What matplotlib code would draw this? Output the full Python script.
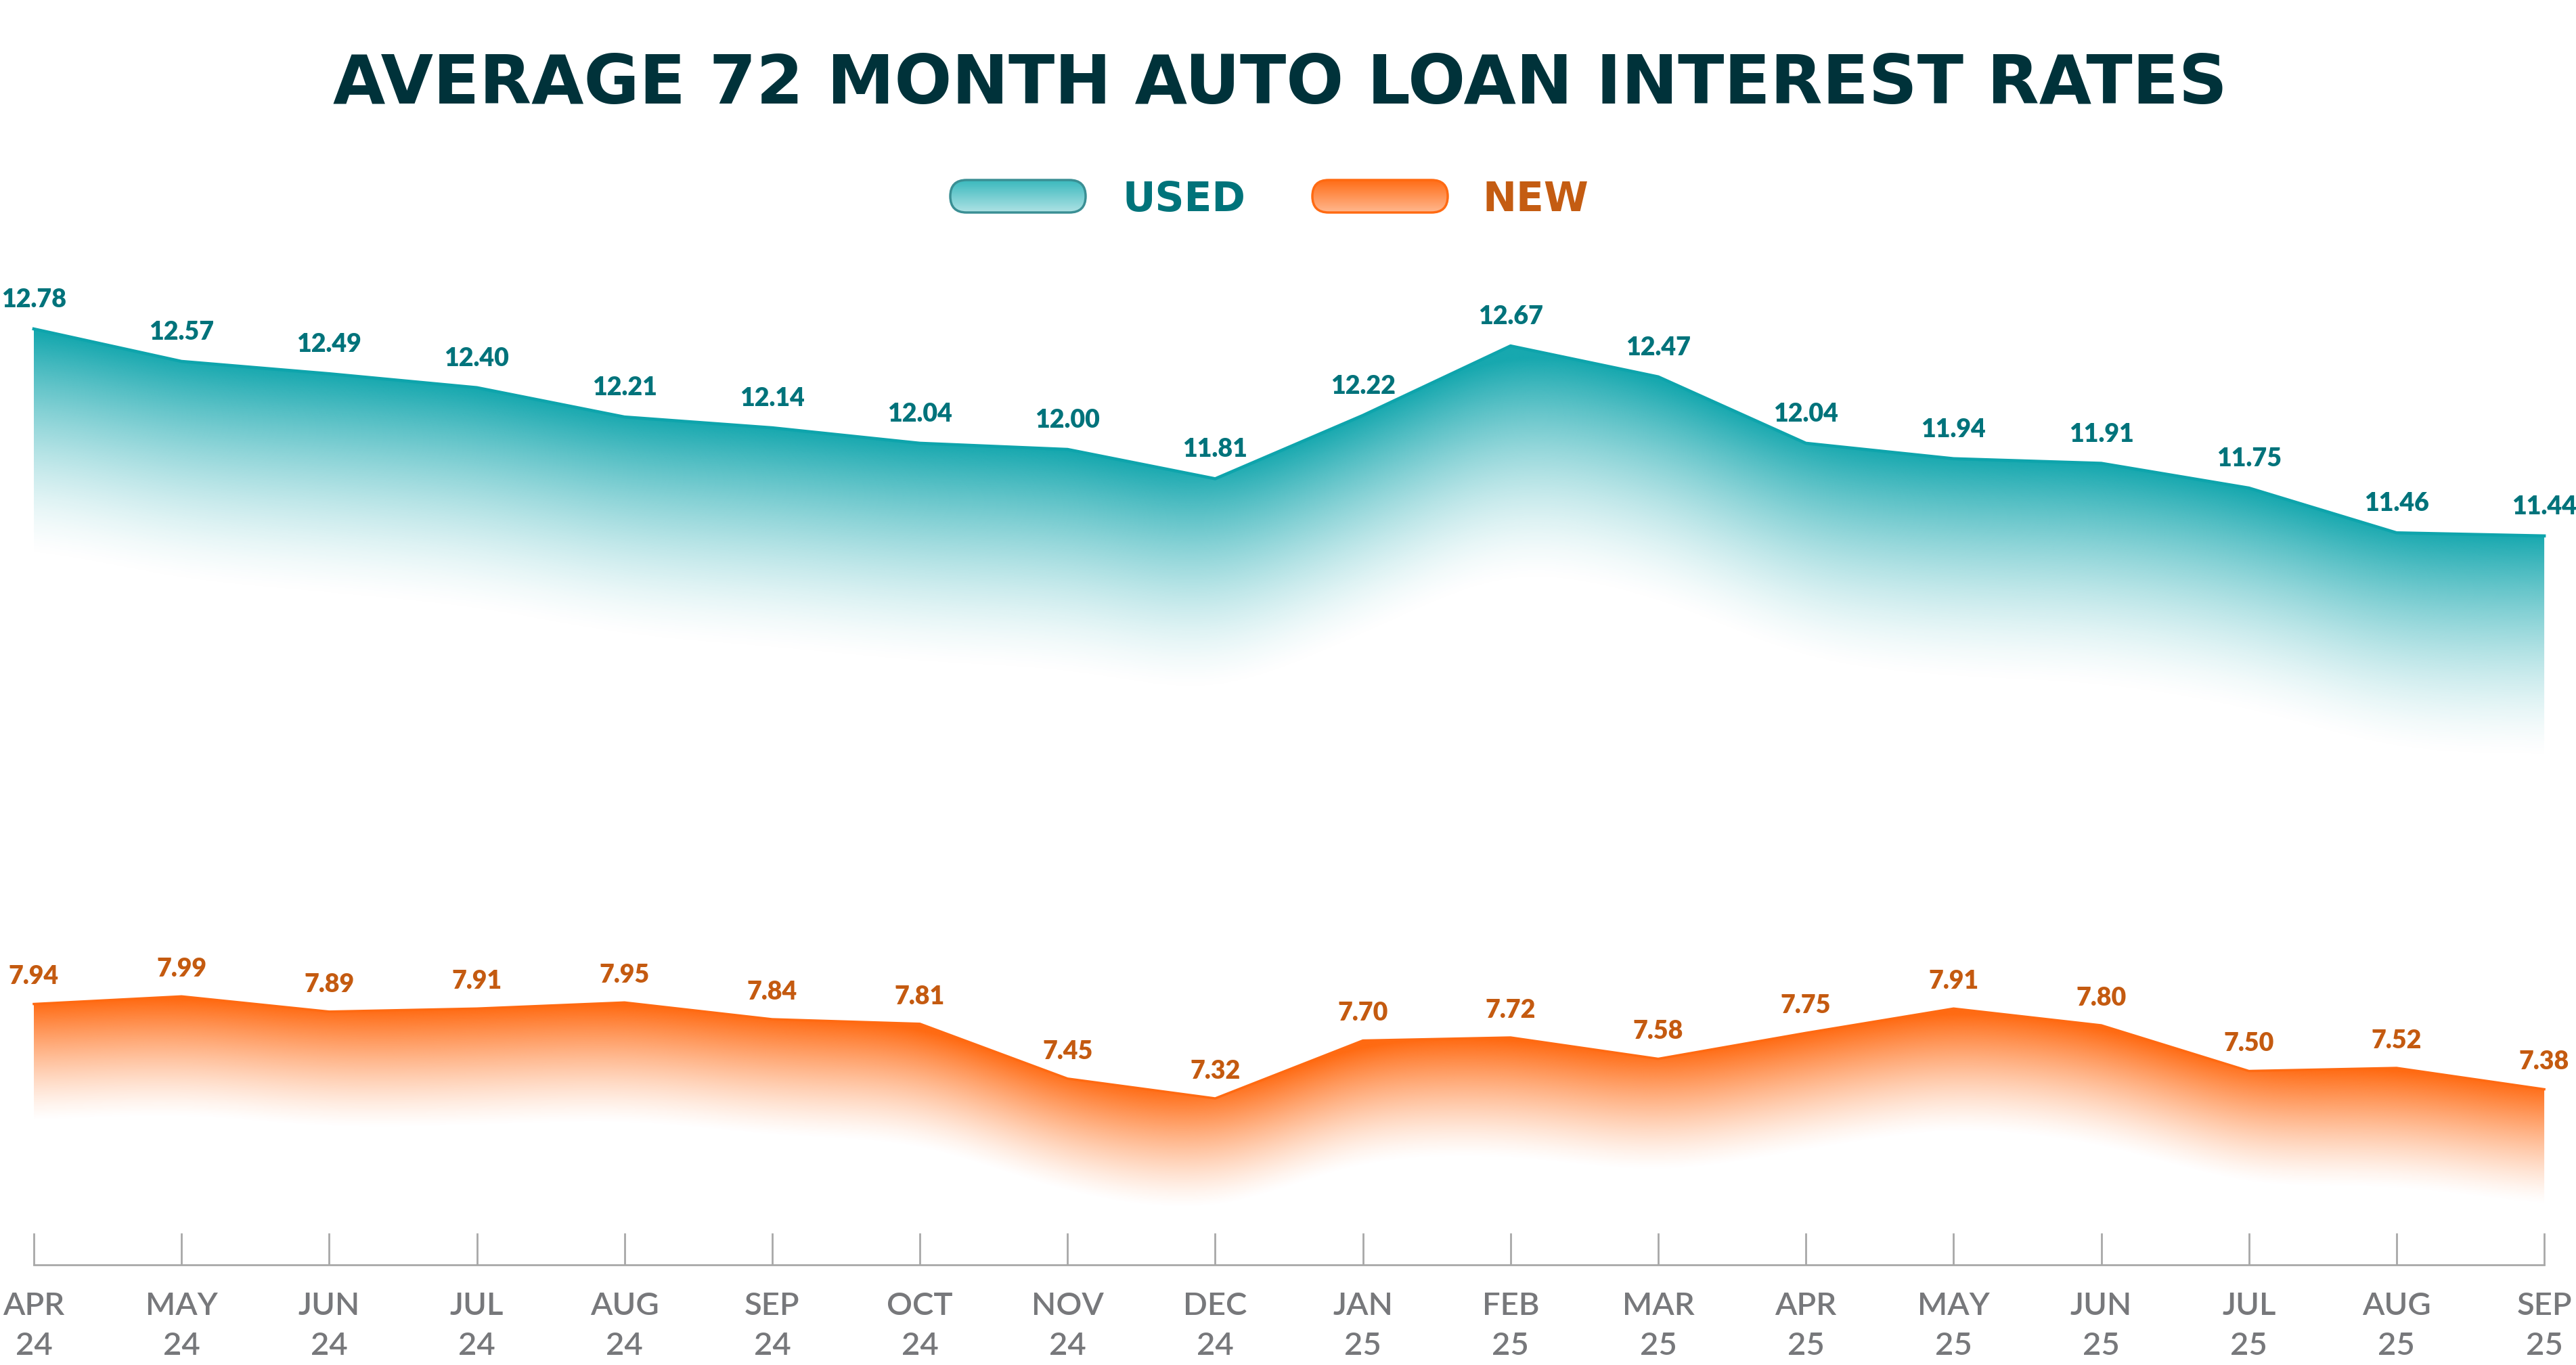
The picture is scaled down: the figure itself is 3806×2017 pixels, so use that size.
import numpy as np
import matplotlib.pyplot as plt
from matplotlib.patches import FancyBboxPatch
from matplotlib.colors import to_rgb

months = ['APR', 'MAY', 'JUN', 'JUL', 'AUG', 'SEP', 'OCT', 'NOV', 'DEC',
          'JAN', 'FEB', 'MAR', 'APR', 'MAY', 'JUN', 'JUL', 'AUG', 'SEP']
years = ['24'] * 9 + ['25'] * 9
used = [12.78, 12.57, 12.49, 12.40, 12.21, 12.14, 12.04, 12.00, 11.81,
        12.22, 12.67, 12.47, 12.04, 11.94, 11.91, 11.75, 11.46, 11.44]
new = [7.94, 7.99, 7.89, 7.91, 7.95, 7.84, 7.81, 7.45, 7.32,
       7.70, 7.72, 7.58, 7.75, 7.91, 7.80, 7.50, 7.52, 7.38]

W, H = 3806, 2017
fig = plt.figure(figsize=(W / 100, H / 100), dpi=100)
fig.patch.set_facecolor('white')

rect = [0, 1 - 1869 / H, 1, 1869 / H]
ax = fig.add_axes(rect)
ax2 = ax.twinx()
x = np.arange(len(months))

used_lim = (6.72, 14.91)
new_lim = (6.227, 14.533)


def fade(axis, vals, color, depth, power, ylim):
    # gradient under the line, fading to white, following a smoothed outline
    xs = np.linspace(0, len(vals) - 1, 1700)
    line = np.interp(xs, x, vals)
    s = 35
    k = np.exp(-0.5 * (np.arange(-3 * s, 3 * s + 1) / s) ** 2)
    k /= k.sum()
    smooth = np.convolve(np.pad(line, 3 * s, mode='edge'), k, mode='valid')
    ys = np.linspace(ylim[0], ylim[1], 900)
    d = smooth[None, :] - ys[:, None]
    a = np.clip(1 - d / depth, 0, 1) ** power
    img = np.zeros((len(ys), len(xs), 4))
    img[..., :3] = to_rgb(color)
    img[..., 3] = a
    poly = axis.fill_between(x, vals, ylim[0], color='none', lw=0)
    im = axis.imshow(img, extent=[0, len(vals) - 1, ylim[0], ylim[1]],
                     origin='lower', aspect='auto', interpolation='bilinear', zorder=1)
    im.set_clip_path(poly.get_paths()[0], transform=axis.transData)


fade(ax, used, '#17a8af', 1.45, 1.5, used_lim)
ax.plot(x, used, color='#0ea4ac', lw=3.3, zorder=3, solid_joinstyle='round')
fade(ax2, new, '#ff6a12', 0.78, 1.3, new_lim)
ax2.plot(x, new, color='#ff6a12', lw=2.5, zorder=3, solid_joinstyle='round')

for i, v in enumerate(used):
    ax.annotate(f'{v:.2f}', (i, v), xytext=(0, 23), textcoords='offset points',
                ha='center', va='baseline', fontsize=27, fontweight='heavy',
                family='Lato', color='#00737b', zorder=5)
for i, v in enumerate(new):
    ax2.annotate(f'{v:.2f}', (i, v), xytext=(0, 21), textcoords='offset points',
                 ha='center', va='baseline', fontsize=27, fontweight='heavy',
                 family='Lato', color='#c45a10', zorder=5)

ax.set_xlim(-0.229, 17.215)
ax.set_ylim(used_lim)
ax2.set_ylim(new_lim)

for a_ in (ax, ax2):
    for sp in a_.spines.values():
        sp.set_visible(False)
    a_.set_yticks([])
ax.spines['bottom'].set_visible(True)
ax.spines['bottom'].set_bounds(0, 17)
ax.spines['bottom'].set_color('#a8a8a8')
ax.spines['bottom'].set_linewidth(2)

ax.set_xticks(x)
ax.set_xticklabels([f'{m}\n{y}' for m, y in zip(months, years)],
                   family='Lato', fontweight='semibold')
ax.tick_params(axis='x', direction='in', length=34, width=2, color='#a8a8a8',
               pad=29, labelsize=34, labelcolor='#77787b')
for t in ax.get_xticklabels():
    t.set_linespacing(1.5)

fig.text(0.497, 1 - 153 / H, 'AVERAGE 72 MONTH AUTO LOAN INTEREST RATES',
         ha='center', va='baseline', fontsize=72, fontweight='bold',
         family='DejaVu Sans', color='#00323a')


def pill(x0, c_top, c_bot, edge):
    pax = fig.add_axes([x0 / W, 1 - 316 / H, 204 / W, 52 / H])
    pax.set_xlim(0, 204)
    pax.set_ylim(0, 52)
    pax.axis('off')
    t = np.linspace(0, 1, 64)[:, None]
    g = np.zeros((64, 2, 3))
    for c in range(3):
        g[..., c] = to_rgb(c_bot)[c] * (1 - t) + to_rgb(c_top)[c] * t
    im = pax.imshow(g, extent=[0, 204, 0, 52], origin='lower', aspect='auto',
                    interpolation='bilinear')
    box = FancyBboxPatch((2, 2), 200, 48, boxstyle='round,pad=0,rounding_size=24',
                         facecolor='none', edgecolor=edge, lw=2.5)
    pax.add_patch(box)
    im.set_clip_path(box)


pill(1402, '#36b7bc', '#b3e4e6', '#3a8f94')
pill(1937, '#ff6a12', '#ffbb94', '#ff6a12')
fig.text(1658 / W, 1 - 312 / H, 'USED', ha='left', va='baseline', fontsize=43,
         fontweight='bold', family='DejaVu Sans', color='#00737a')
fig.text(2190 / W, 1 - 312 / H, 'NEW', ha='left', va='baseline', fontsize=43,
         fontweight='bold', family='DejaVu Sans', color='#c45c12')

fig.savefig('out.png', dpi=100, facecolor='white')
